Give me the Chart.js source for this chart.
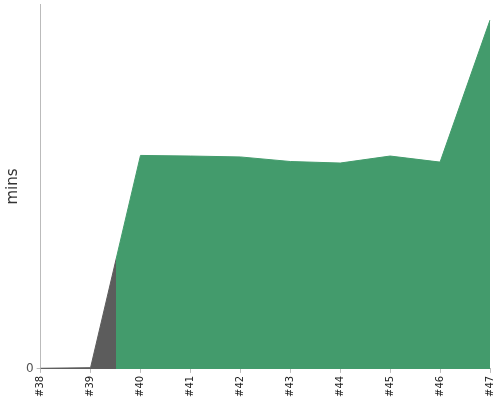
<!DOCTYPE html>
<html>
<head>
<meta charset="utf-8">
<script src="https://cdn.jsdelivr.net/npm/chart.js@4"></script>
<style>
  html, body { margin: 0; padding: 0; background: #fff; }
  #wrap { width: 500px; height: 400px; }
</style>
</head>
<body>
<div id="wrap"><canvas id="buildChart"></canvas></div>
<script>
const builds = ['#38', '#39', '#40', '#41', '#42', '#43', '#44', '#45', '#46', '#47'];
const durations = [0.02, 0.04, 7.02, 7.0, 6.97, 6.82, 6.77, 7.0, 6.8, 11.47];
const results = ['failure', 'failure', 'success', 'success', 'success', 'success', 'success', 'success', 'success', 'success'];

const resultColors = { success: '#439b6c', failure: '#5c5c5c' };

// colour each build's stretch of the area, switching halfway between builds
function areaFill(ctx) {
  const chart = ctx.chart;
  const area = chart.chartArea;
  if (!area) return resultColors.success;
  const x = chart.scales.x;
  const g = chart.ctx.createLinearGradient(area.left, 0, area.right, 0);
  const w = area.right - area.left;
  for (let i = 0; i < builds.length; i++) {
    const c = resultColors[results[i]];
    const from = i === 0 ? area.left : (x.getPixelForValue(i - 1) + x.getPixelForValue(i)) / 2;
    const to = i === builds.length - 1 ? area.right : (x.getPixelForValue(i) + x.getPixelForValue(i + 1)) / 2;
    g.addColorStop(Math.min(1, Math.max(0, (from - area.left) / w)), c);
    g.addColorStop(Math.min(1, Math.max(0, (to - area.left) / w)), c);
  }
  return g;
}

new Chart(document.getElementById('buildChart'), {
  type: 'line',
  data: {
    labels: builds,
    datasets: [{
      data: durations,
      fill: 'origin',
      backgroundColor: areaFill,
      borderColor: areaFill,
      borderWidth: 1,
      pointRadius: 0,
      tension: 0
    }]
  },
  options: {
    responsive: true,
    maintainAspectRatio: false,
    animation: false,
    layout: { padding: { top: 4, right: 10, left: 4 } },
    plugins: { legend: { display: false }, tooltip: { enabled: false } },
    scales: {
      x: {
        afterFit: (s) => { s.paddingRight = 0; s.paddingLeft = 0; },
        grid: { drawOnChartArea: false, tickLength: 4, color: '#bbb' },
        border: { color: '#bbb' },
        ticks: {
          minRotation: 90, maxRotation: 90, autoSkip: false,
          color: '#222', font: { family: 'DejaVu Sans', size: 10 }, padding: 3
        }
      },
      y: {
        min: 0,
        max: 12,
        afterBuildTicks: (axis) => { axis.ticks = [{ value: 0 }]; },
        afterFit: (s) => { s.paddingTop = 0; },
        grid: { drawOnChartArea: false, tickLength: 4, color: '#bbb' },
        border: { color: '#bbb' },
        ticks: { color: '#555', font: { family: 'DejaVu Sans', size: 12 }, padding: 3 },
        title: {
          display: true, text: 'mins', color: '#333',
          font: { family: 'DejaVu Sans', size: 15 }, padding: { top: 0, bottom: 1 }
        }
      }
    }
  }
});
</script>
</body>
</html>
